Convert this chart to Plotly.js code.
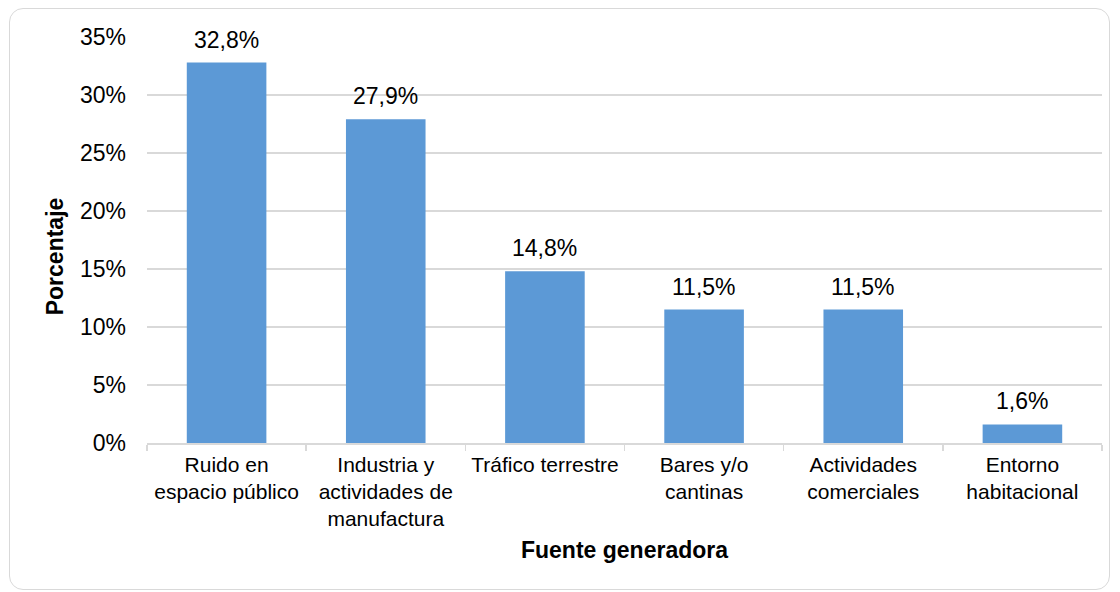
<!DOCTYPE html>
<html>
<head>
<meta charset="utf-8">
<script src="https://cdn.plot.ly/plotly-3.0.1.min.js"></script>
<style>
  html, body { margin: 0; padding: 0; background: #ffffff; }
  #frame { position: absolute; left: 9px; top: 8px; width: 1101px; height: 582px; border: 1.5px solid #d9d9d9; border-radius: 14px; box-sizing: border-box; }
  #chart { position: absolute; left: 0; top: 0; width: 1120px; height: 592px; }
</style>
</head>
<body>
<div id="frame"></div>
<div id="chart"></div>
<script>
const categories = [
  "Ruido en<br>espacio público",
  "Industria y<br>actividades de<br>manufactura",
  "Tráfico terrestre",
  "Bares y/o<br>cantinas",
  "Actividades<br>comerciales",
  "Entorno<br>habitacional"
];
const values = [0.328, 0.279, 0.148, 0.115, 0.115, 0.016];
const valueLabels = ["32,8%", "27,9%", "14,8%", "11,5%", "11,5%", "1,6%"];
const yTickValues = [0, 0.05, 0.10, 0.15, 0.20, 0.25, 0.30, 0.35];
const yTitle = "Porcentaje";
const xTitle = "Fuente generadora";

const font = "Liberation Sans, Arial, sans-serif";

const trace = {
  type: "bar",
  x: categories,
  y: values,
  width: 0.5,
  marker: { color: "#5c99d6", line: { width: 0 } },
  hoverinfo: "skip"
};

const annotations = categories.map((c, i) => ({
  x: c,
  y: values[i],
  xref: "x",
  yref: "y",
  text: valueLabels[i],
  showarrow: false,
  yanchor: "bottom",
  yshift: 8,
  font: { family: font, size: 23, color: "#000000" }
}));

annotations.push({
  xref: "paper",
  yref: "paper",
  x: -0.0963,
  y: 0.46,
  xanchor: "center",
  yanchor: "middle",
  textangle: -90,
  text: "<b>" + yTitle + "</b>",
  showarrow: false,
  font: { family: font, size: 23, color: "#000000" }
});

const layout = {
  width: 1120,
  height: 592,
  margin: { l: 147, r: 18, t: 37, b: 149 },
  paper_bgcolor: "rgba(0,0,0,0)",
  plot_bgcolor: "rgba(0,0,0,0)",
  showlegend: false,
  font: { family: font, size: 21, color: "#000000" },
  annotations: annotations,
  xaxis: {
    type: "category",
    tickson: "boundaries",
    ticks: "outside",
    ticklen: 6,
    tickcolor: "#d9d9d9",
    tickwidth: 1.5,
    showline: true,
    linecolor: "#d9d9d9",
    linewidth: 1.5,
    showgrid: false,
    ticklabelstandoff: 2,
    tickfont: { family: font, size: 21, color: "#000000" },
    title: { text: "<b>" + xTitle + "</b>", font: { family: font, size: 23, color: "#000000" }, standoff: 12 },
    automargin: false
  },
  yaxis: {
    range: [0, 0.35],
    tickvals: yTickValues,
    tickformat: ".0%",
    showgrid: true,
    gridcolor: "#d9d9d9",
    gridwidth: 1.5,
    zeroline: false,
    showline: false,
    ticks: "",
    ticklabelstandoff: 20,
    tickfont: { family: font, size: 23, color: "#000000" },
    automargin: false
  }
};

Plotly.newPlot("chart", [trace], layout, { displayModeBar: false, staticPlot: true });
</script>
</body>
</html>
